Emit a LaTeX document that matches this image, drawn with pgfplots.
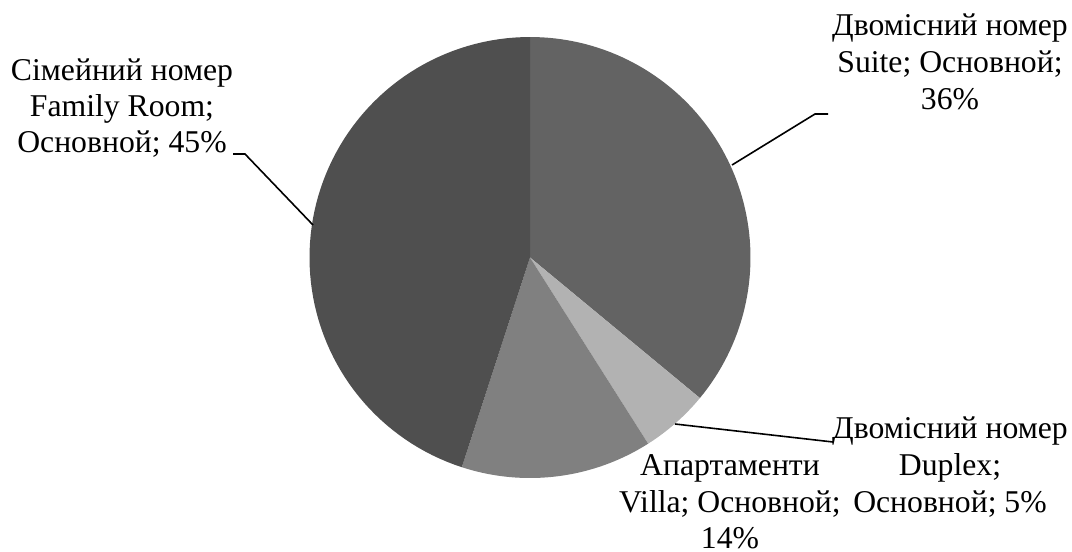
\documentclass[border=0pt]{standalone}
\usepackage{pgfplots}
\pgfplotsset{compat=1.18}
\usepackage{fontspec}
\setmainfont{Liberation Serif}

\definecolor{cSuite}{HTML}{636363}
\definecolor{cDuplex}{HTML}{B2B2B2}
\definecolor{cVilla}{HTML}{808080}
\definecolor{cFamily}{HTML}{4F4F4F}

% shares in percent, clockwise from 12 o'clock
\def\pSuite{36}
\def\pDuplex{5}
\def\pVilla{14}
\def\pFamily{45}

\newcommand\lbl[3]{\node[anchor=base, inner sep=0pt, font=\fontsize{15.85}{18.25}\selectfont] at (axis cs:#1,#2) {#3};}

\begin{document}
\begin{tikzpicture}
\pgfmathsetmacro\aA{90}
\pgfmathsetmacro\aB{\aA-3.6*\pSuite}
\pgfmathsetmacro\aC{\aB-3.6*\pDuplex}
\pgfmathsetmacro\aD{\aC-3.6*\pVilla}
\pgfmathsetmacro\aE{\aD-3.6*\pFamily}
\begin{axis}[
    width=536pt, height=276pt,
    scale only axis,
    xmin=0, xmax=1072, ymin=0, ymax=552,
    y dir=reverse,
    hide axis,
    clip=false,
    variable=\t,
    samples=80,
]
\path (axis cs:0,0) rectangle (axis cs:1072,552);
\addplot[draw=none, fill=cSuite, domain=\aB:\aA]
    ({530+220.5*cos(\t)}, {257.5-220.5*sin(\t)}) -- (axis cs:530,257.5) -- cycle;
\addplot[draw=none, fill=cDuplex, domain=\aC:\aB]
    ({530+220.5*cos(\t)}, {257.5-220.5*sin(\t)}) -- (axis cs:530,257.5) -- cycle;
\addplot[draw=none, fill=cVilla, domain=\aD:\aC]
    ({530+220.5*cos(\t)}, {257.5-220.5*sin(\t)}) -- (axis cs:530,257.5) -- cycle;
\addplot[draw=none, fill=cFamily, domain=\aE:\aD]
    ({530+220.5*cos(\t)}, {257.5-220.5*sin(\t)}) -- (axis cs:530,257.5) -- cycle;

% leader lines
\draw[line width=0.8pt] (axis cs:233,154) -- (axis cs:245,154) -- (axis cs:313,225);
\draw[line width=0.8pt] (axis cs:828,114) -- (axis cs:815,114) -- (axis cs:732,165);
\draw[line width=0.8pt] (axis cs:675,424) -- (axis cs:833,442);

% labels
\lbl{122}{80}{Сімейний номер}
\lbl{122}{116}{Family Room;}
\lbl{122}{152}{Основной; 45\%}
\lbl{950}{35}{Двомісний номер}
\lbl{950}{72}{Suite; Основной;}
\lbl{950}{109}{36\%}
\lbl{950}{438}{Двомісний номер}
\lbl{950}{475}{Duplex;}
\lbl{950}{512}{Основной; 5\%}
\lbl{730}{475}{Апартаменти}
\lbl{730}{512}{Villa; Основной;}
\lbl{730}{548}{14\%}
\end{axis}
\end{tikzpicture}
\end{document}
